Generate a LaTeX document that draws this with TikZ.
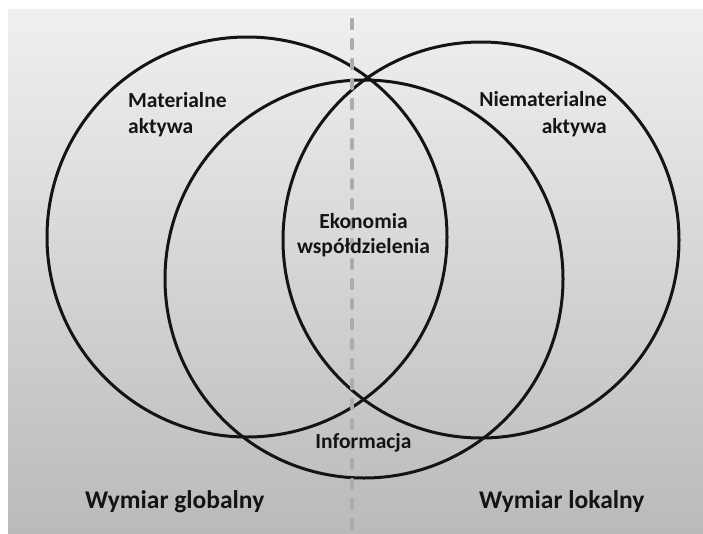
\documentclass[tikz,border=0pt]{standalone}
\usepackage{fontspec}
\setmainfont{Carlito}
\definecolor{bgtop}{RGB}{240,240,240}
\definecolor{bgbot}{RGB}{186,186,186}
\definecolor{dashcol}{RGB}{172,172,172}
\definecolor{inkcol}{RGB}{20,20,20}
\begin{document}
\begin{tikzpicture}[x=1pt,y=-1pt,
  ring/.style={draw=inkcol, line width=3pt},
  lbl/.style={font=\bfseries\fontsize{21.5}{26}\selectfont, text=inkcol, inner sep=0pt},
  biglbl/.style={font=\bfseries\fontsize{25.5}{30}\selectfont, text=inkcol, inner sep=0pt},
  divider/.style={draw=dashcol, line width=3.2pt, line cap=round, dash pattern=on 9pt off 11pt}]
\useasboundingbox (0,0) rectangle (703,533);
\fill[white] (0,0) rectangle (703,533);
\shade[top color=bgtop, bottom color=bgbot] (8,9) rectangle (703,533);
% circles
\draw[ring] (247,237) circle[radius=200pt];
\draw[ring] (481,240) circle[radius=198pt];
\draw[ring] (364,279) circle[radius=199pt];
% divider
\coordinate (dtop) at (352,19.5);
\coordinate (dbot) at (352,529);
\draw[divider] (dtop) -- (dbot);
% labels
\node[lbl, anchor=base west] (mat1) at (128,107) {Materialne};
\node[lbl, anchor=base west] (mat2) at (128,133) {aktywa};
\node[lbl, anchor=base east] (nie1) at (607,106) {Niematerialne};
\node[lbl, anchor=base east] (nie2) at (607,133) {aktywa};
\node[lbl, anchor=base] (eko1) at (363.5,228) {Ekonomia};
\node[lbl, anchor=base] (eko2) at (363.5,253) {współdzielenia};
\node[lbl, anchor=base] (inf) at (363.5,448) {Informacja};
\node[biglbl, anchor=base west] (glob) at (85,508) {Wymiar globalny};
\node[biglbl, anchor=base west] (lok) at (479,508) {Wymiar lokalny};
\end{tikzpicture}
\end{document}
